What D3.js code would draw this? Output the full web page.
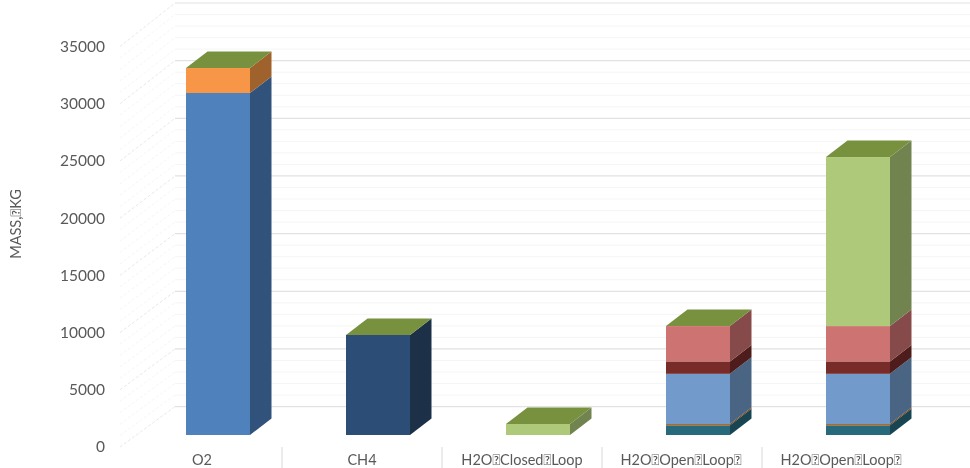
<!DOCTYPE html>
<html><head><meta charset="utf-8">
<script src="https://cdn.jsdelivr.net/npm/d3@7/dist/d3.min.js"></script>
<style>html,body{margin:0;padding:0;background:#fff;overflow:hidden}svg{display:block;filter:blur(0.4px)}text{font-family:Lato,"Open Sans",sans-serif;fill:#595959}</style>
</head><body><svg id="c" width="970" height="468"></svg>
<script>
const categories = ["O2","CH4","H2O\uE000Closed\uE000Loop","H2O\uE000Open\uE000Loop\uE000","H2O\uE000Open\uE000Loop\uE000"];
const yTicks = [0,5000,10000,15000,20000,25000,30000,35000];
const gridValues = d3.range(0,35001,1000);
const o2Main     = [29740,0,0,0,0];
const o2Extra    = [2170,0,0,0,0];
const ch4        = [0,8700,0,0,0];
const teal       = [0,0,0,840,840];
const thinOrange = [0,0,0,110,110];
const lightBlue  = [0,0,0,4370,4370];
const darkRed    = [0,0,0,1080,1080];
const red        = [0,0,0,3070,3070];
const green      = [0,0,960,0,14700];
const seriesValues = [o2Main,o2Extra,ch4,teal,thinOrange,lightBlue,darkRed,red,green];
const frontColors = ["#4f81bd","#f79646","#2c4d75","#276a7c","#b65708","#729aca","#772c2a","#cd7371","#afc97a"];
const sideColors  = ["#31527a","#a0622d","#1c3148","#184552","#7a3d08","#4a6483","#4d1c1b","#854a49","#71834f"];
const topColor = "#77913f";

const svg = d3.select("#c");
const wallX = 175, rightX = 970;
const yWall  = d3.scaleLinear().domain([0,35000]).range([406.6,3]);
const yFront = d3.scaleLinear().domain([0,35000]).range([447,46.5]);
const yBar   = d3.scaleLinear().domain([0,35000]).range([435,32.5]);
const x = d3.scaleBand().domain(d3.range(categories.length)).range([138,938]).paddingInner(0.6).paddingOuter(0.3);
const xSlot = d3.scaleBand().domain(d3.range(categories.length)).range([122,922]);
const depthX = 21.5, depthY = 16.5;

svg.append("g").selectAll("line").data(gridValues).join("line")
  .attr("x1",120).attr("x2",wallX)
  .attr("y1",d=>yFront(d)).attr("y2",d=>yWall(d))
  .attr("stroke",d=>d%5000===0?"#e2e2e2":"#f2f2f2").attr("stroke-width",0.8).attr("stroke-dasharray","3 2");
svg.append("g").selectAll("line").data(gridValues).join("line")
  .attr("x1",wallX).attr("x2",rightX)
  .attr("y1",d=>yWall(d)).attr("y2",d=>yWall(d))
  .attr("stroke",d=>d%5000===0?"#e2e2e2":"#f5f5f5").attr("stroke-width",d=>d%5000===0?1.2:1);

const stack = d3.stack().keys(d3.range(seriesValues.length)).value((i,k)=>seriesValues[k][i]);
const layers = stack(d3.range(categories.length));
const line = d3.line();
layers.forEach((layer,k)=>{
  const g = svg.append("g");
  layer.forEach((seg,i)=>{
    if(seg[1]-seg[0]<=0) return;
    const x0=x(i), x1=x0+x.bandwidth();
    g.append("path").attr("fill",sideColors[k]).attr("d",line([[x1,yBar(seg[0])],[x1+depthX,yBar(seg[0])-depthY],[x1+depthX,yBar(seg[1])-depthY],[x1,yBar(seg[1])]])+"Z");
    g.append("rect").attr("x",x0).attr("width",x.bandwidth()).attr("y",yBar(seg[1])).attr("height",yBar(seg[0])-yBar(seg[1])).attr("fill",frontColors[k]);
  });
});
categories.forEach((c,i)=>{
  const total = d3.sum(seriesValues,s=>s[i]);
  const x0=x(i), x1=x0+x.bandwidth(), t=yBar(total);
  svg.append("path").attr("fill",topColor).attr("d",line([[x0,t],[x1,t],[x1+depthX,t-depthY],[x0+depthX,t-depthY]])+"Z");
});

svg.append("g").selectAll("text").data(yTicks).join("text")
  .attr("x",105).attr("y",d=>yFront(d)).attr("dy","0.35em").attr("text-anchor","end")
  .attr("font-size",15.5).text(d=>d);
svg.append("text").attr("transform","translate(16,224) rotate(-90)").attr("dy","0.35em")
  .attr("text-anchor","middle").attr("font-size",14.5).text("MASS,\uE000KG");

svg.append("g").selectAll("line").data(d3.range(1,categories.length)).join("line")
  .attr("x1",i=>xSlot(i)).attr("x2",i=>xSlot(i)).attr("y1",447).attr("y2",468)
  .attr("stroke","#d9d9d9").attr("stroke-width",1);
svg.append("g").selectAll("text").data(categories).join("text")
  .attr("x",(d,i)=>xSlot(i)+xSlot.bandwidth()/2-(i>2?1:0)).attr("y",464.5)
  .attr("text-anchor","middle").attr("font-size",14.5).text(d=>d);
</script></body></html>
